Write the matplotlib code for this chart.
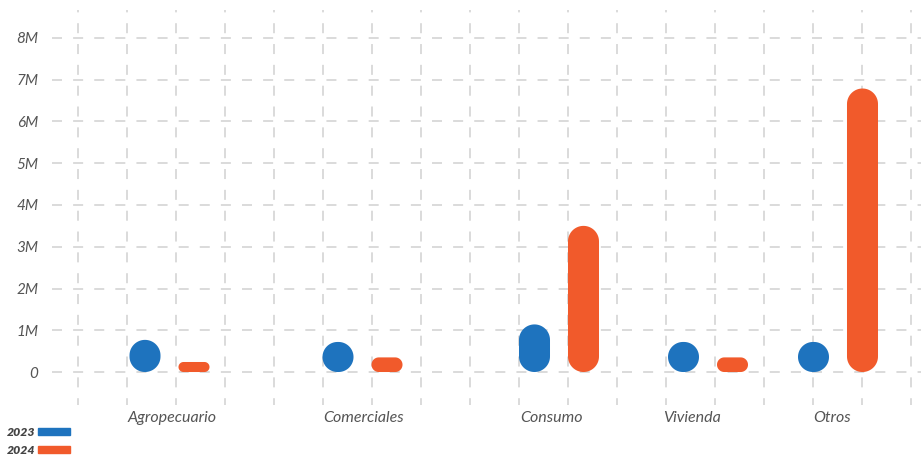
import matplotlib
matplotlib.use("Agg")
import matplotlib.pyplot as plt
from matplotlib.patches import Polygon, Patch
import numpy as np

plt.rcParams['font.family'] = ['Lato', 'DejaVu Sans']
plt.rcParams['lines.scale_dashes'] = False

# data (millions)
categories = ['Agropecuario', 'Comerciales', 'Consumo', 'Vivienda', 'Otros']
series_names = ['2023', '2024']
values_2023 = [0.77, 0.72, 1.14, 0.72, 0.72]
values_2024 = [0.24, 0.35, 3.50, 0.35, 6.79]
y_ticks = [0, 1, 2, 3, 4, 5, 6, 7, 8]
y_labels = ['0', '1M', '2M', '3M', '4M', '5M', '6M', '7M', '8M']

# layout (x in grid-column units)
group_pos = [1.867, 5.806, 9.816, 12.857, 15.51]
label_pos = [1.918, 5.837, 9.653, 12.53, 15.39]
offset = 0.5
bar_w = 0.633
colors = ['#1E73BE', '#F15A2B']
grid_col = '#d4d4d4'

W, H = 921, 458
fig = plt.figure(figsize=(W / 100, H / 100), dpi=100)
ax = fig.add_axes([52 / W, (H - 405) / H, (921 - 52) / W, (405 - 10) / H])
ax.set_xlim(-0.531, 17.204)
ax.set_ylim(-0.79, 8.67)

for s in ax.spines.values():
    s.set_visible(False)

# grid
ax.set_xticks(range(0, 18), minor=True)
ax.set_xticks(label_pos)
ax.set_xticklabels(categories, style='italic', color='#555555', fontsize=11.5)
ax.set_yticks(y_ticks)
ax.set_yticklabels(y_labels, style='italic', color='#555555', fontsize=11)
ax.tick_params(axis='both', which='both', length=0)
ax.tick_params(axis='y', pad=10)
ax.tick_params(axis='x', pad=4)
ax.grid(True, axis='x', which='minor', color=grid_col, lw=1.2, linestyle=(2.3, (7.2, 7.8)))
ax.grid(True, axis='y', which='major', color=grid_col, lw=1.2, linestyle=(0, (7.2, 8.0)))
ax.grid(False, axis='x', which='major')
ax.set_axisbelow(True)

# rounded bars (radius = half the smaller side, in pixels)
fig.canvas.draw()
p0 = ax.transData.transform((0, 0))
p1 = ax.transData.transform((1, 1))
px_x = p1[0] - p0[0]
px_y = p1[1] - p0[1]


def pill(xc, v, w):
    r_px = min(w * px_x, v * px_y) / 2
    rx, ry = r_px / px_x, r_px / px_y
    x0, x1 = xc - w / 2, xc + w / 2
    corners = [(x1 - rx, v - ry, 0), (x0 + rx, v - ry, 90),
               (x0 + rx, ry, 180), (x1 - rx, ry, 270)]
    pts = []
    for cx, cy, a0 in corners:
        t = np.radians(np.linspace(a0, a0 + 90, 20))
        pts += list(zip(cx + rx * np.cos(t), cy + ry * np.sin(t)))
    return pts


for i, vals in enumerate([values_2023, values_2024]):
    for g, v in zip(group_pos, vals):
        xc = g + (-offset if i == 0 else offset)
        ax.add_patch(Polygon(pill(xc, v, bar_w), closed=True,
                             fc=colors[i], ec='none', zorder=3))

handles = [Patch(color=c) for c in colors]
fig.legend(handles, series_names, loc='lower left', bbox_to_anchor=(-0.003, -0.016),
           markerfirst=False, frameon=False, handlelength=2.6, handleheight=0.55,
           handletextpad=0.2, labelspacing=0.55, borderpad=0.3,
           prop={'weight': 'heavy', 'style': 'italic', 'size': 8.8}, labelcolor='#444444')

fig.savefig('out.png', dpi=100)
